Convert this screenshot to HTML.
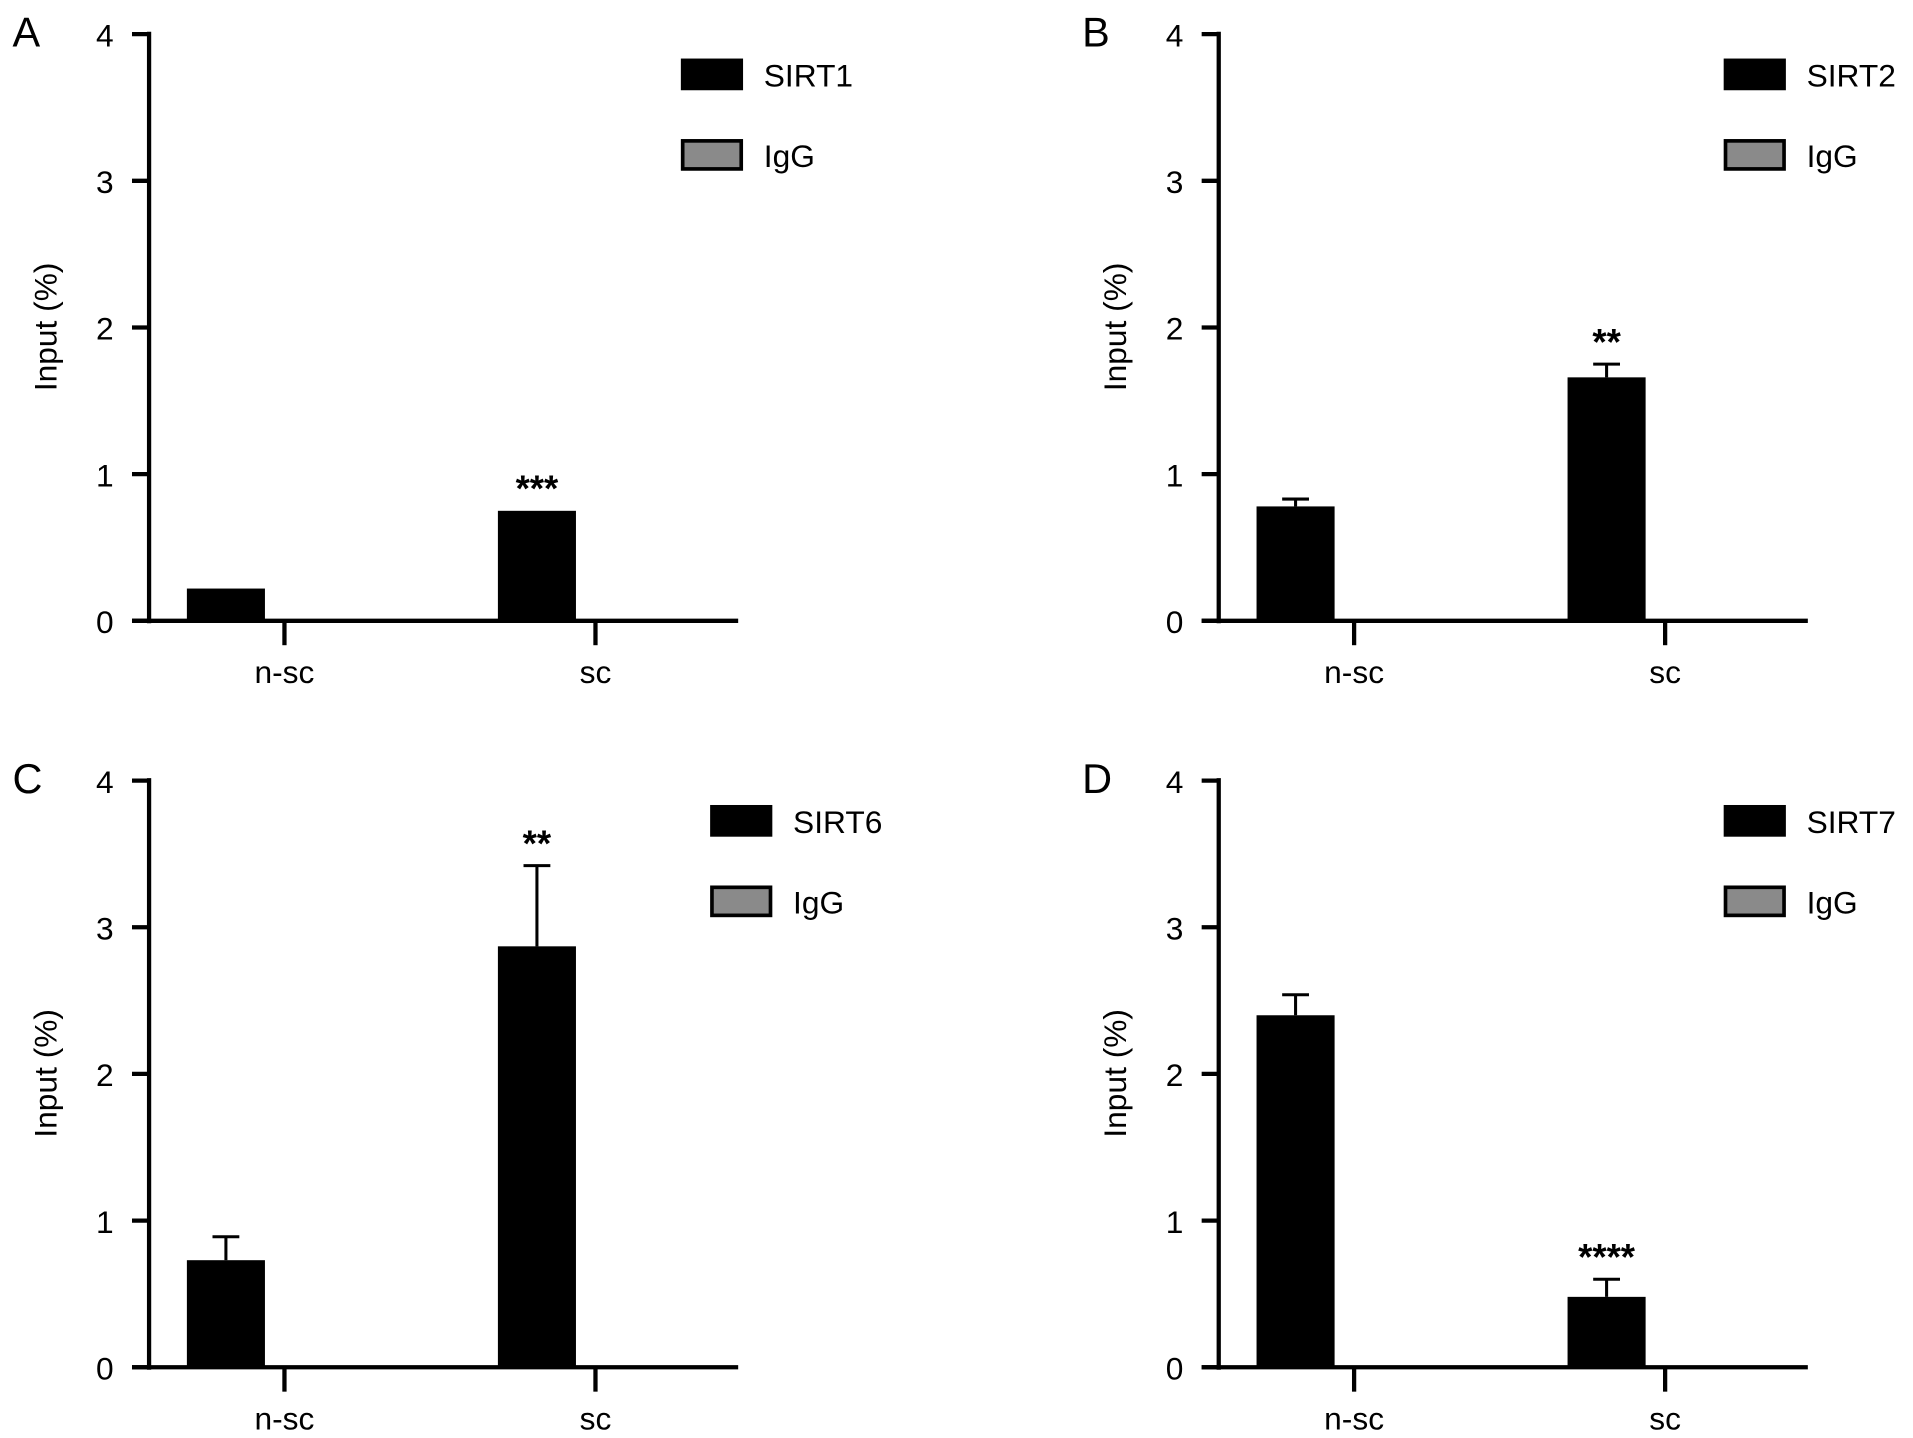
<!DOCTYPE html>
<html><head><meta charset="utf-8"><style>
html,body{margin:0;padding:0;background:#fff}
svg{display:block;font-family:"Liberation Sans",Arial,sans-serif}
</style></head><body>
<svg id="fig" width="1913" height="1438" viewBox="0 0 1568 1179"></svg>
<script>
const categories = ["n-sc", "sc"];
const panelLetters = ["A", "B", "C", "D"];
const targets = ["SIRT1", "SIRT2", "SIRT6", "SIRT7"];
const meansA = [0.22, 0.75];
const meansB = [0.78, 1.66];
const meansC = [0.73, 2.87];
const meansD = [2.40, 0.48];
const errA = [0, 0];
const errB = [0.05, 0.09];
const errC = [0.16, 0.55];
const errD = [0.14, 0.12];
const sigA = ["", "***"];
const sigB = ["", "**"];
const sigC = ["", "**"];
const sigD = ["", "****"];
const yTicks = [0, 1, 2, 3, 4];

const NS = "http://www.w3.org/2000/svg";
const svg = document.getElementById("fig");
function mk(tag, attrs, parent, text) {
  const e = document.createElementNS(NS, tag);
  for (const k in attrs) e.setAttribute(k, attrs[k]);
  if (text !== undefined) e.textContent = text;
  parent.appendChild(e);
  return e;
}
const panels = [
  {ox: 0, oy: 0, means: meansA, err: errA, sig: sigA, legX: 558, legY: 48},
  {ox: 877, oy: 0, means: meansB, err: errB, sig: sigB, legX: 1413 - 877, legY: 48},
  {ox: 0, oy: 612, means: meansC, err: errC, sig: sigC, legX: 582, legY: 660 - 612},
  {ox: 877, oy: 612, means: meansD, err: errD, sig: sigD, legX: 1413 - 877, legY: 660 - 612}
];
panels.forEach((p, i) => {
  const g = mk("g", {transform: `translate(${p.ox},${p.oy})`}, svg);
  
  
  const axX = 122, y0 = 509, y4 = 28;
  const yS = v => y0 - (y0 - y4) * v / 4;
  const catX = [233, 488];
  const xS = c => catX[c] - 80;
  const bw = 64;
  const letter = mk("text", {x: 10, y: 38, "font-size": 34}, g, panelLetters[i]);
  
  
  const yaxis = mk("g", {}, g);
  
  
  mk("line", {x1: axX, y1: y4 - 2, x2: axX, y2: y0 + 2, stroke: "#000", "stroke-width": 3.5}, yaxis);
  yTicks.forEach(t => {
    mk("line", {x1: 108, y1: yS(t), x2: axX, y2: yS(t), stroke: "#000", "stroke-width": 3.5}, yaxis);
    const tl = mk("text", {x: 93, y: yS(t) + 10, "font-size": 26, "text-anchor": "end"}, yaxis, String(t));
    
    
  });
  const yt = mk("text", {x: 0, y: 0, "font-size": 26, "text-anchor": "middle", transform: `translate(46,268) rotate(-90)`}, g, "Input (%)");
  
  
  const xaxis = mk("g", {}, g);
  
  
  mk("line", {x1: 108, y1: y0, x2: 605, y2: y0, stroke: "#000", "stroke-width": 3.5}, xaxis);
  categories.forEach((c, j) => {
    mk("line", {x1: catX[j], y1: y0, x2: catX[j], y2: 529, stroke: "#000", "stroke-width": 3.5}, xaxis);
    const cl = mk("text", {x: catX[j], y: 560, "font-size": 26, "text-anchor": "middle"}, xaxis, c);
    
    
  });
  p.means.forEach((v, j) => {
    const cx = xS(j) + bw / 2;
    if (p.err[j] > 0) {
      const eb = mk("g", {}, g);
      
      
      mk("line", {x1: cx, y1: yS(v), x2: cx, y2: yS(v + p.err[j]), stroke: "#000", "stroke-width": 2.5}, eb);
      mk("line", {x1: cx - 11, y1: yS(v + p.err[j]), x2: cx + 11, y2: yS(v + p.err[j]), stroke: "#000", "stroke-width": 2.5}, eb);
    }
    const r = mk("rect", {x: xS(j), y: yS(v), width: bw, height: y0 - yS(v), fill: "#000"}, g);
    
    
    if (p.sig[j]) {
      const s = mk("text", {x: cx, y: yS(v + p.err[j]) - 8, "font-size": 30, "font-weight": "bold", "text-anchor": "middle"}, g, p.sig[j]);
      
      
    }
  });
  const leg = mk("g", {}, g);
  
  
  const e1 = mk("g", {}, leg);
  
  
  mk("rect", {x: p.legX, y: p.legY, width: 51, height: 26, fill: "#000"}, e1);
  mk("text", {x: p.legX + 68, y: p.legY + 23, "font-size": 26}, e1, targets[i]);
  const e2 = mk("g", {}, leg);
  
  
  mk("rect", {x: p.legX + 1.5, y: p.legY + 67.5, width: 48, height: 23, fill: "#8a8a8a", stroke: "#000", "stroke-width": 3}, e2);
  mk("text", {x: p.legX + 68, y: p.legY + 89, "font-size": 26}, e2, "IgG");
});
</script>
</body></html>
